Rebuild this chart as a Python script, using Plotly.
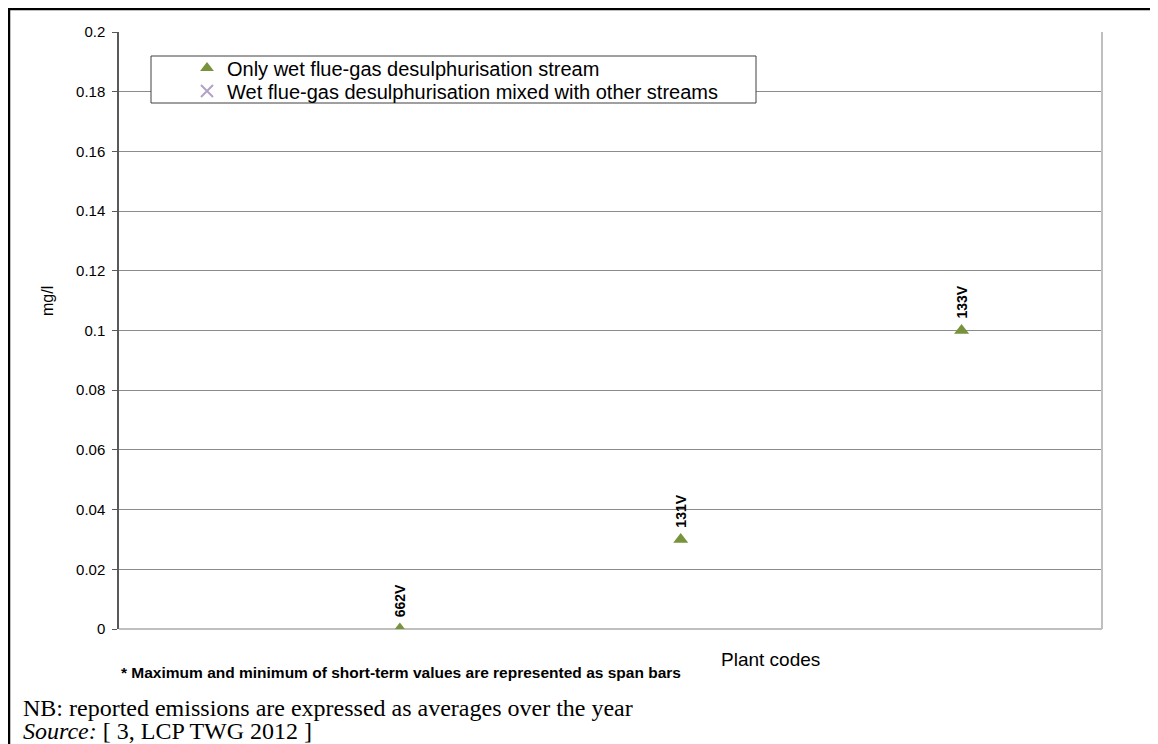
import plotly.graph_objects as go

plant_codes = ["662V", "131V", "133V"]
only_wfgd = [0.0, 0.03, 0.1]
mixed_wfgd = [None, None, None]
y_ticks = [0, 0.02, 0.04, 0.06, 0.08, 0.1, 0.12, 0.14, 0.16, 0.18, 0.2]
y_tick_text = ["0", "0.02", "0.04", "0.06", "0.08", "0.1", "0.12", "0.14", "0.16", "0.18", "0.2"]

OFF = 8  # page body margin
W, H = 1158 - OFF, 744 - OFF
L, R, T, B = 119, 1102, 32, 629  # plot area in screen pixels

def px(x):
    return (x - L) / (R - L)

def py(y):
    return (B - y) / (B - T)

fig = go.Figure()
fig.add_trace(go.Scatter(
    x=plant_codes, y=only_wfgd, mode="markers",
    name="Only wet flue-gas desulphurisation stream",
    marker=dict(symbol="triangle-up", size=13, color="#77933C"),
    legend="legend",
))
fig.add_trace(go.Scatter(
    x=plant_codes, y=mixed_wfgd, mode="markers",
    name="Wet flue-gas desulphurisation mixed with other streams",
    marker=dict(symbol="x-thin", size=11, line=dict(color="#B3A2C7", width=1.2), color="#B3A2C7"),
    legend="legend2",
))

annotations = []
for code, val in zip(plant_codes, only_wfgd):
    annotations.append(dict(
        x=code, y=val, xref="x", yref="y", text="<b>" + code + "</b>",
        textangle=-90, showarrow=False, yanchor="bottom", xanchor="center",
        yshift=10, font=dict(family="Arial", size=14, color="#000000"),
    ))

annotations += [
    dict(x=px(47), y=py(301), xref="paper", yref="paper", text="mg/l", textangle=-90,
         showarrow=False, xanchor="center", yanchor="middle",
         font=dict(family="Arial", size=16, color="#000000")),
    dict(x=px(770), y=py(659), xref="paper", yref="paper", text="Plant codes",
         showarrow=False, xanchor="center", yanchor="middle",
         font=dict(family="Arial", size=19, color="#000000")),
    dict(x=px(119), y=py(672), xref="paper", yref="paper",
         text="<b>* Maximum and minimum of short-term values are represented as span bars</b>",
         showarrow=False, xanchor="left", yanchor="middle",
         font=dict(family="Liberation Sans Narrow, Arial Narrow, Arial", size=15.5, color="#000000")),
    dict(x=px(21), y=py(708), xref="paper", yref="paper",
         text="NB: reported emissions are expressed as averages over the year",
         showarrow=False, xanchor="left", yanchor="middle",
         font=dict(family="Liberation Serif, Times New Roman", size=24, color="#000000")),
    dict(x=px(21), y=py(731), xref="paper", yref="paper",
         text="<i>Source:</i> [ 3, LCP TWG 2012 ]",
         showarrow=False, xanchor="left", yanchor="middle",
         font=dict(family="Liberation Serif, Times New Roman", size=24, color="#000000")),
]

shapes = [
    dict(type="path", xref="paper", yref="paper",
         path=f"M {px(9)} {py(760)} L {px(9)} {py(9)} L {px(1170)} {py(9)}",
         line=dict(color="#000000", width=2.5)),
    dict(type="line", xref="paper", yref="paper", x0=1, x1=1, y0=0, y1=1,
         line=dict(color="#BFBFBF", width=2)),
    dict(type="rect", xref="paper", yref="paper", layer="above",
         x0=px(151), x1=px(756), y0=py(103), y1=py(56),
         fillcolor="white", line=dict(color="#404040", width=1)),
]

legend_common = dict(xanchor="left", yanchor="middle",
                     bgcolor="rgba(0,0,0,0)", borderwidth=0,
                     font=dict(family="Arial", size=20, color="#000000"),
                     itemsizing="constant")

fig.update_layout(
    width=W, height=H,
    margin=dict(l=L - OFF, r=W - (R - OFF), t=T - OFF, b=H - (B - OFF)),
    paper_bgcolor="white", plot_bgcolor="white",
    showlegend=True,
    legend=dict(x=px(187), y=py(68), **legend_common),
    legend2=dict(x=px(187), y=py(91), **legend_common),
    xaxis=dict(type="category", categoryorder="array", categoryarray=plant_codes,
               range=[-1, 2.5], showticklabels=False, showgrid=False, zeroline=False,
               showline=False, ticks=""),
    yaxis=dict(range=[0, 0.2], tickvals=y_ticks, ticktext=y_tick_text,
               showgrid=True, gridcolor="#8C8C8C", gridwidth=1,
               zeroline=True, zerolinecolor="#BFBFBF", zerolinewidth=2,
               showline=True, linecolor="#595959", linewidth=1.5,
               ticks="outside", ticklen=5, tickcolor="#595959",
               ticklabelstandoff=4,
               tickfont=dict(family="Arial", size=15, color="#000000")),
    annotations=annotations, shapes=shapes,
)

fig.write_html("out.html")
